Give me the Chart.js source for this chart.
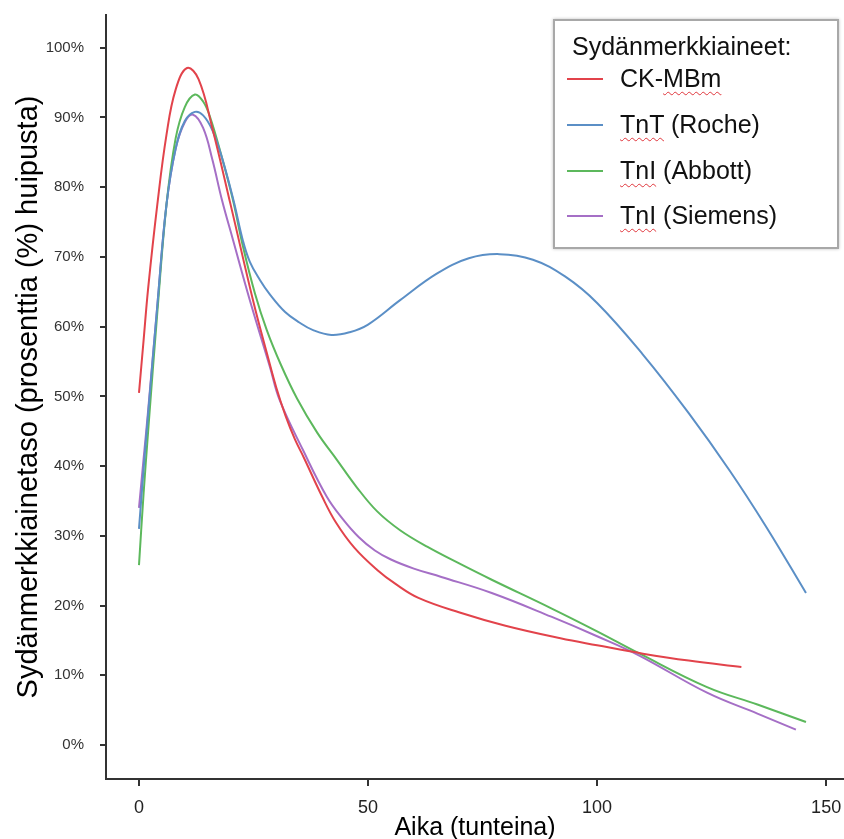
<!DOCTYPE html>
<html>
<head>
<meta charset="utf-8">
<script src="https://cdn.jsdelivr.net/npm/chart.js@4.4.1/dist/chart.umd.min.js"></script>
<style>
  html, body { margin: 0; padding: 0; background: #fff; }
  #wrap { position: relative; width: 844px; height: 839px; font-family: "Liberation Sans", Arial, sans-serif; }
  #legend {
    position: absolute; left: 553px; top: 19px; width: 286px; height: 230px;
    box-sizing: border-box; border: 2px solid #a8a8a8; background: #fff;
    box-shadow: 0 0 3px rgba(0, 0, 0, 0.25);
  }
  #legend .ttl, #legend .item { position: absolute; font-size: 25px; line-height: 25px; color: #111; white-space: nowrap; }
  #legend .ttl { left: 17px; top: 13px; }
  #legend .item { left: 65px; }
  #legend .sw { position: absolute; left: -53px; width: 36px; height: 2px; top: 12px; }
  .sp { text-decoration: underline wavy #e0363c; text-decoration-thickness: 1px; text-underline-offset: 4px; }
</style>
</head>
<body>
<div id="wrap">
  <canvas id="chart" width="844" height="839"></canvas>
  <div id="legend"></div>
</div>
<script>
// hours after onset, % of peak
const ckmbmX = [0, 1, 2, 4, 6, 8, 10.5, 13, 16, 20, 25, 28, 30, 32, 34, 36, 40, 43, 47, 52, 56, 61, 70, 80, 92, 100, 110, 120, 131.5];
const ckmbmY = [50.5, 58, 65.5, 77.5, 87.5, 94, 97.1, 95.5, 88.5, 77.5, 63.5, 56, 51.2, 47.2, 43.9, 41.2, 35.6, 31.9, 28.3, 25.1, 23.1, 21.1, 19, 17.1, 15.3, 14.3, 13.1, 12.1, 11.2];

const tntX = [0, 1, 2, 4, 6, 8, 10, 12.2, 14, 16, 18, 20.6, 22.7, 24.2, 26.4, 28.6, 31.9, 35, 38, 42, 46, 50, 57, 65, 72, 78.7, 86, 93, 100, 110, 120, 129, 137, 145.6];
const tntY = [31, 39.5, 47.5, 63, 77.5, 85.5, 89.5, 90.8, 90.3, 88.2, 84.5, 78.2, 72.3, 69.3, 66.7, 64.6, 62.1, 60.6, 59.5, 58.8, 59.2, 60.3, 63.8, 67.6, 69.8, 70.4, 69.6, 67.2, 63.4, 56, 47.6, 39.3, 31.2, 21.8];

const abbottX = [0, 1, 2, 4, 6, 8, 10, 12.2, 14, 15.5, 18, 20.5, 22.7, 25.3, 27.9, 31, 34.5, 38.9, 43.2, 47.5, 52, 57, 63, 70, 77, 90, 100, 109, 124, 135, 145.6];
const abbottY = [25.8, 36, 45, 62, 77.5, 87, 91.5, 93.3, 92.3, 90.1, 84.5, 78.2, 71.5, 64.8, 59.5, 54.5, 49.7, 44.8, 40.9, 37, 33.5, 30.8, 28.4, 26, 23.7, 19.6, 16.3, 13.2, 8.3, 5.8, 3.3];

const siemensX = [0, 1, 2, 4, 6, 8, 10, 11.8, 14, 16, 18.1, 20.5, 24.2, 28.6, 30.7, 35.8, 41, 44.5, 48, 51.5, 55, 60, 66, 77, 90, 100, 109, 124, 135, 143.4];
const siemensY = [34, 41, 48, 63, 77.5, 85.5, 89.3, 90.4, 88.5, 84, 78.2, 72.5, 63.8, 54.2, 49.5, 42.3, 35.6, 32.4, 29.8, 27.9, 26.6, 25.3, 24.1, 21.8, 18.4, 15.6, 12.9, 7.5, 4.5, 2.2];

const seriesNames = ["CK-MBm", "TnT (Roche)", "TnI (Abbott)", "TnI (Siemens)"];
const seriesColors = ["#e2434b", "#5b8fc6", "#5cb85c", "#a56fc6"];
const xTickValues = [0, 50, 100, 150];
const yTickValues = [0, 10, 20, 30, 40, 50, 60, 70, 80, 90, 100];

const legendTitle = "Sydänmerkkiaineet:";
const xTitle = "Aika (tunteina)";
const yTitle = "Sydänmerkkiainetaso (prosenttia (%) huipusta)";

const toPoints = (xs, ys) => xs.map((x, i) => ({ x: x, y: ys[i] }));
const seriesData = [
  toPoints(ckmbmX, ckmbmY),
  toPoints(tntX, tntY),
  toPoints(abbottX, abbottY),
  toPoints(siemensX, siemensY)
];

// legend (html, with the spell-check squiggles of the original)
const legendEl = document.getElementById("legend");
const squiggle = {
  "CK-MBm": 'CK-<span class="sp">MBm</span>',
  "TnT (Roche)": '<span class="sp">TnT</span> (Roche)',
  "TnI (Abbott)": '<span class="sp">TnI</span> (Abbott)',
  "TnI (Siemens)": '<span class="sp">TnI</span> (Siemens)'
};
const itemTops = [45, 91, 137, 182];
legendEl.innerHTML = '<div class="ttl">' + legendTitle + '</div>' +
  seriesNames.map((name, i) =>
    '<div class="item" style="top:' + itemTops[i] + 'px">' +
    '<span class="sw" style="background:' + seriesColors[i] + '"></span>' +
    squiggle[name] + '</div>').join("");

const axisColor = "#333";

new Chart(document.getElementById("chart"), {
  type: "line",
  data: {
    datasets: seriesData.map((pts, i) => ({
      label: seriesNames[i],
      data: pts,
      borderColor: seriesColors[i],
      backgroundColor: seriesColors[i],
      borderWidth: 2,
      pointRadius: 0,
      fill: false,
      tension: 0.4
    }))
  },
  options: {
    responsive: false,
    animation: false,
    layout: { padding: { top: 15, right: 0, left: 0, bottom: 0 } },
    plugins: { legend: { display: false }, tooltip: { enabled: false } },
    scales: {
      x: {
        type: "linear",
        min: -7.2,
        max: 153.9,
        afterBuildTicks: (s) => { s.ticks = xTickValues.map(v => ({ value: v })); },
        afterFit: (s) => { s.height = 60; s.paddingLeft = 0; s.paddingRight = 0; },
        grid: { display: true, drawOnChartArea: false, drawTicks: true, tickLength: 7, color: axisColor, lineWidth: 2 },
        border: { display: true, color: axisColor, width: 2 },
        ticks: { color: "#222", padding: 11, font: { family: "Liberation Sans", size: 18 }, maxRotation: 0 },
        title: {
          display: true, text: xTitle, color: "#000",
          font: { family: "Liberation Sans", size: 25, lineHeight: 0.85 },
          padding: { top: 0, bottom: 0 }
        }
      },
      y: {
        type: "linear",
        min: -4.88,
        max: 104.7,
        afterBuildTicks: (s) => { s.ticks = yTickValues.map(v => ({ value: v })); },
        afterFit: (s) => { s.width = 106; s.paddingTop = 0; s.paddingBottom = 0; },
        grid: { display: true, drawOnChartArea: false, drawTicks: true, tickLength: 6, color: axisColor, lineWidth: 2 },
        border: { display: true, color: axisColor, width: 2 },
        ticks: {
          color: "#333", padding: 16, font: { family: "Liberation Sans", size: 15 },
          callback: (v) => v + "%"
        },
        title: {
          display: true, text: yTitle, color: "#000",
          font: { family: "Liberation Sans", size: 29, lineHeight: 1.2 },
          padding: { top: 12, bottom: 0 }
        }
      }
    }
  }
});
</script>
</body>
</html>
